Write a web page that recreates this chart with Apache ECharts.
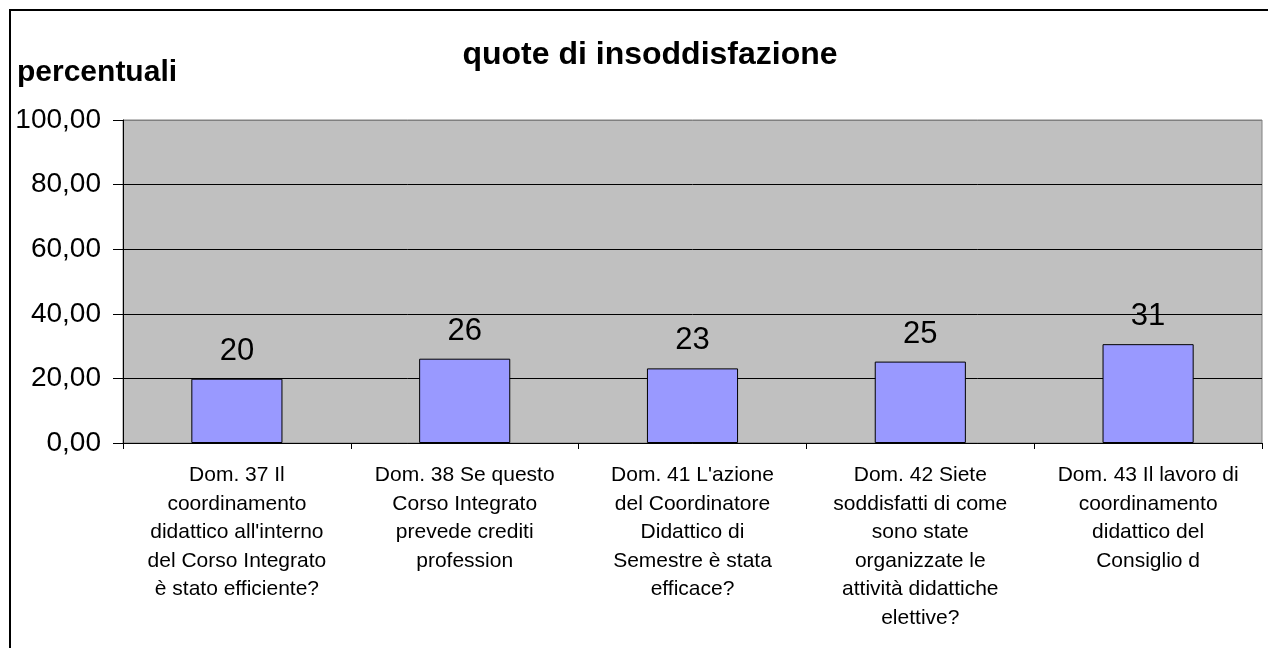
<!DOCTYPE html>
<html>
<head>
<meta charset="utf-8">
<script src="https://cdn.jsdelivr.net/npm/echarts@6/dist/echarts.min.js"></script>
<style>
html,body{margin:0;padding:0;background:#fff;}
#chart{width:1268px;height:648px;}
</style>
</head>
<body>
<div id="chart"></div>
<script>
var categories = [
  "Dom. 37 Il\ncoordinamento\ndidattico all'interno\ndel Corso Integrato\nè stato efficiente?",
  "Dom. 38 Se questo\nCorso Integrato\nprevede crediti\nprofession",
  "Dom. 41 L'azione\ndel Coordinatore\nDidattico di\nSemestre è stata\nefficace?",
  "Dom. 42 Siete\nsoddisfatti di come\nsono state\norganizzate le\nattività didattiche\nelettive?",
  "Dom. 43 Il lavoro di\ncoordinamento\ndidattico del\nConsiglio d"
];
var values = [19.9, 26.1, 23.1, 25.2, 30.6];
var titleText = "quote di insoddisfazione";
var yAxisName = "percentuali";

var chart = echarts.init(document.getElementById('chart'), null, {renderer: 'canvas'});
var FONT = "'Liberation Sans', Arial, sans-serif";
chart.setOption({
  animation: false,
  backgroundColor: '#ffffff',
  textStyle: {fontFamily: FONT},
  graphic: [
    {type: 'rect', shape: {x: 10, y: 10, width: 1300, height: 700}, style: {fill: 'none', stroke: '#000', lineWidth: 2}, z: 100},
    {type: 'text', left: 17, top: 58, style: {text: yAxisName, font: "bold 30px 'Liberation Sans', Arial, sans-serif", fill: '#000'}}
  ],
  title: {
    text: titleText,
    left: 645, textAlign: 'center', top: 34,
    textStyle: {fontFamily: FONT, fontSize: 32, fontWeight: 'bold', color: '#000'}
  },
  grid: {
    left: 123, right: 6, top: 120, bottom: 205,
    show: true, backgroundColor: '#C0C0C0', borderColor: '#808080', borderWidth: 1
  },
  xAxis: {
    type: 'category',
    data: categories,
    axisLine: {show: true, lineStyle: {color: '#000', width: 1}},
    axisTick: {show: true, length: 6, alignWithLabel: false, lineStyle: {color: '#000'}},
    axisLabel: {interval: 0, fontSize: 21, lineHeight: 28.5, color: '#000', margin: 18, align: 'center', fontFamily: FONT},
    splitLine: {show: false}
  },
  yAxis: {
    type: 'value',
    min: 0, max: 100, interval: 20,
    axisLine: {show: true, lineStyle: {color: '#000', width: 1}},
    axisTick: {show: true, length: 10, lineStyle: {color: '#000'}},
    axisLabel: {fontSize: 28, color: '#000', margin: 22, fontFamily: FONT,
      formatter: function (v) { return v.toFixed(2).replace('.', ','); }},
    splitLine: {show: true, lineStyle: {color: ['#000', '#000', '#000', '#000', '#000', '#808080'], width: 1}}
  },
  series: [{
    type: 'bar',
    data: values,
    barWidth: '40%',
    itemStyle: {color: '#9999FF', borderColor: '#000', borderWidth: 1},
    label: {show: true, position: 'top', distance: 12, fontSize: 31, color: '#000', fontFamily: FONT,
      formatter: function (p) { return Math.round(p.value); }}
  }]
});
</script>
</body>
</html>
